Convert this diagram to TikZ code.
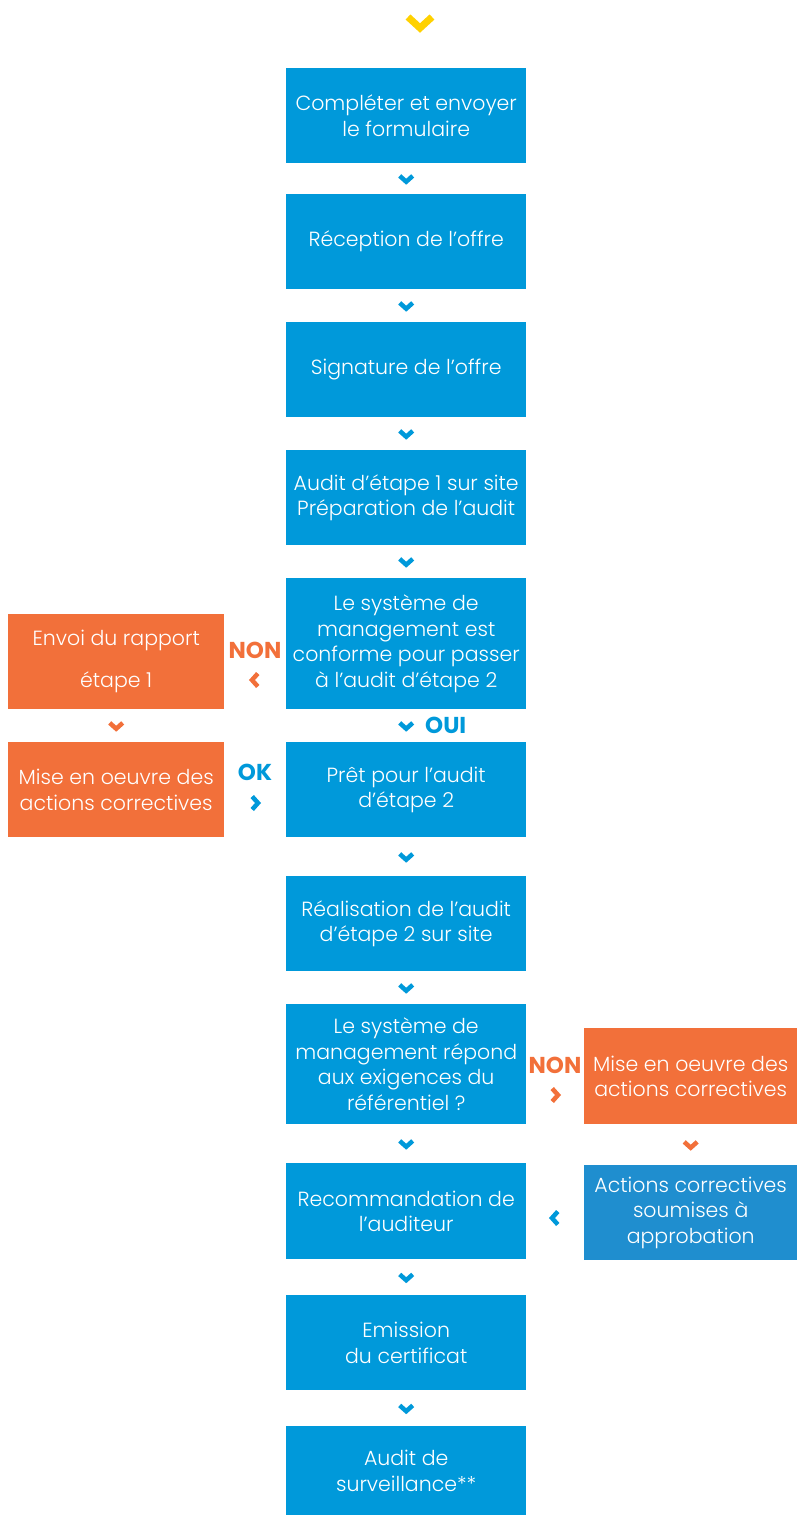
\documentclass[tikz,border=0pt]{standalone}
\usepackage{fontspec}
\setmainfont{Poppins Light}[BoldFont=Poppins Bold]
\usetikzlibrary{calc}
\definecolor{mblue}{HTML}{0099DA}
\definecolor{rblue}{HTML}{1F8ECF}
\definecolor{morange}{HTML}{F2703A}
\definecolor{myellow}{HTML}{FFD100}
\tikzset{
  box/.style={fill=mblue, text=white, align=center, inner sep=0pt, anchor=north west,
    font=\fontsize{20.5}{25.5}\selectfont},
  obox/.style={box, fill=morange},
  rbox/.style={box, fill=rblue},
  lbl/.style={font=\bfseries\fontsize{23}{23}\selectfont, inner sep=0pt},
  chev/.style={line width=4.5pt, line cap=butt, line join=miter},
  pics/cdown/.style={code={\draw[chev,#1] (-6.5,-2.8) -- (0,3) -- (6.5,-2.8);}},
  pics/cleft/.style={code={\draw[chev,#1] (2.8,-6.5) -- (-3,0) -- (2.8,6.5);}},
  pics/cright/.style={code={\draw[chev,#1] (-2.8,-6.5) -- (3,0) -- (-2.8,6.5);}},
}
\begin{document}
\begin{tikzpicture}[x=1pt,y=-1pt]
\useasboundingbox (0,0) rectangle (797,1515);
% top chevron
\coordinate (top) at (420,28);
\draw[line width=7pt, line join=miter, myellow] ($(top)+(-12,-11)$) -- (top) -- ($(top)+(12,-11)$);
% main column
\node[box, minimum width=240pt, minimum height=95pt] (b1) at (286,68) {Compléter et envoyer\\le formulaire};
\node[box, minimum width=240pt, minimum height=95pt] (b2) at (286,194) {Réception de l’offre};
\node[box, minimum width=240pt, minimum height=95pt] (b3) at (286,322) {Signature de l’offre};
\node[box, minimum width=240pt, minimum height=95pt] (b4) at (286,450) {Audit d’étape 1 sur site\\Préparation de l’audit};
\node[box, minimum width=240pt, minimum height=131pt] (b5) at (286,578) {Le système de\\management est\\conforme pour passer\\à l’audit d’étape 2};
\node[box, minimum width=240pt, minimum height=95pt] (b6) at (286,742) {Prêt pour l’audit\\d’étape 2};
\node[box, minimum width=240pt, minimum height=95pt] (b7) at (286,876) {Réalisation de l’audit\\d’étape 2 sur site};
\node[box, minimum width=240pt, minimum height=120pt] (b8) at (286,1004) {Le système de\\management répond\\aux exigences du\\référentiel ?};
\node[box, minimum width=240pt, minimum height=96pt] (b9) at (286,1163) {Recommandation de\\l’auditeur};
\node[box, minimum width=240pt, minimum height=95pt] (b10) at (286,1295) {Emission\\du certificat};
\node[box, minimum width=240pt, minimum height=89pt] (b11) at (286,1426) {Audit de\\surveillance**};
% left column
\node[obox, minimum width=216pt, minimum height=95pt, font=\fontsize{20.5}{42}\selectfont] (l1) at (8,614) {Envoi du rapport\\étape 1};
\node[obox, minimum width=216pt, minimum height=95pt] (l2) at (8,742) {Mise en oeuvre des\\actions correctives};
% right column
\node[obox, minimum width=213pt, minimum height=96pt] (r1) at (584,1028) {Mise en oeuvre des\\actions correctives};
\node[rbox, minimum width=213pt, minimum height=95pt] (r2) at (584,1165) {Actions correctives\\soumises à\\approbation};
% main chevrons
\foreach \a/\b in {b1/b2,b2/b3,b3/b4,b4/b5,b6/b7,b7/b8,b8/b9,b9/b10,b10/b11}{
  \pic at ($(\a.south)!0.5!(\b.north)$) {cdown=mblue};
}
\pic at ($(b5.south)!0.5!(b6.north)$) {cdown=mblue};
\node[lbl, text=mblue, anchor=west] (oui) at (425,725) {OUI};
% left side
\node[lbl, text=morange] (non1) at (255,650) {NON};
\pic at (255,680) {cleft=morange};
\pic at ($(l1.south)!0.5!(l2.north)$) {cdown=morange};
\node[lbl, text=mblue] (ok) at (255,772) {OK};
\pic at (255,803) {cright=mblue};
% right side
\node[lbl, text=morange] (non2) at (555,1065) {NON};
\pic at (555,1095) {cright=morange};
\pic at ($(r1.south)!0.5!(r2.north)$) {cdown=morange};
\pic at (555,1218) {cleft=mblue};
\end{tikzpicture}
\end{document}
